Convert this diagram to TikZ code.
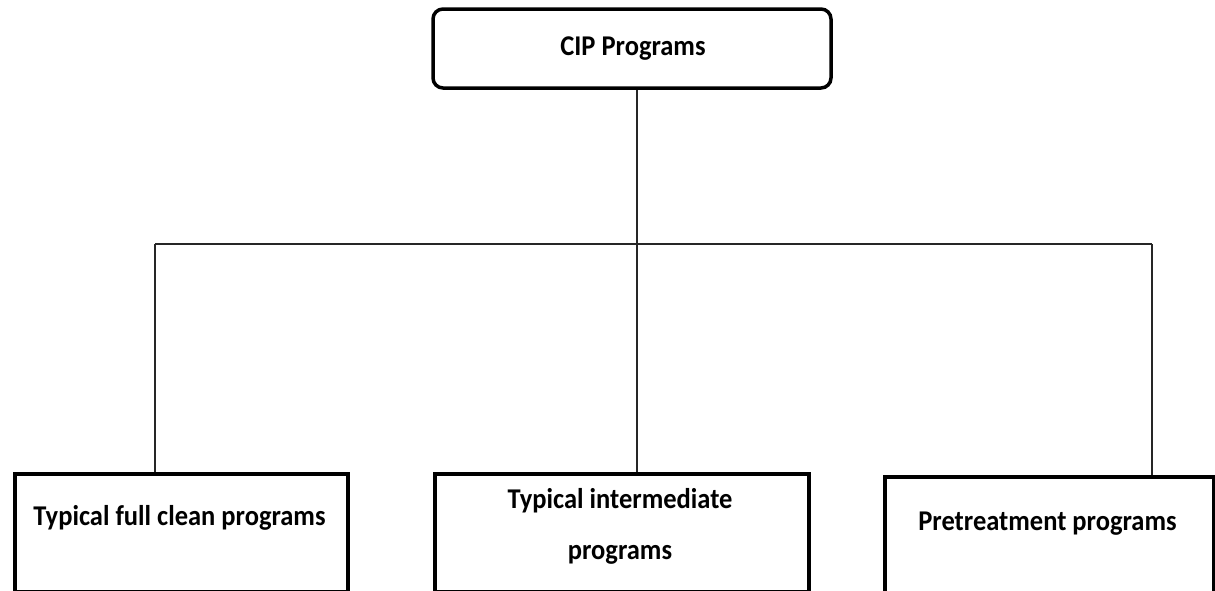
\documentclass[tikz,border=0pt]{standalone}
\usepackage{fontspec}
\setmainfont{Carlito}
\begin{document}
\begin{tikzpicture}[x=1pt,y=-1pt,
  boxline/.style={draw=black,line width=3.5pt},
  topbox/.style={boxline,rounded corners=10pt,minimum width=398pt,minimum height=79pt,inner sep=0pt},
  leafbox/.style={boxline,anchor=north west,minimum height=118pt,inner sep=0pt},
  lbl/.style={font=\fontsize{26.5}{47}\selectfont\bfseries,inner sep=0pt,yscale=1.08},
  link/.style={draw=black!85,line width=1.5pt}]
\useasboundingbox (0,0) rectangle (1215,590);
\clip (0,0) rectangle (1215,590);

% root box
\node[topbox] (root) at (632,48.5) {};
\node[lbl,anchor=base] (roottxt) at (633,55) {CIP Programs};

% leaf boxes (they run past the lower edge)
\node[leafbox,minimum width=333pt] (b1) at (13,472) {};
\node[leafbox,minimum width=374pt] (b2) at (433,472) {};
\node[leafbox,minimum width=329pt] (b3) at (883,475) {};

\node[lbl,anchor=base] (t1) at (179.5,525) {Typical full clean programs};
\node[lbl,align=center,anchor=center] (t2) at (620,526) {Typical intermediate\\programs};
\node[lbl,anchor=base] (t3) at (1047.5,530) {Pretreatment programs};

% connector tree
\coordinate (j)  at (637,244);
\coordinate (c1) at (155,244);
\coordinate (c3) at (1152,244);
\draw[link] (root.south -| j) -- (j);
\draw[link] (c1) -- (c3);
\draw[link] (c1) -- (c1 |- b1.north);
\draw[link] (j) -- (j |- b2.north);
\draw[link] (c3) -- (c3 |- b3.north);
\end{tikzpicture}
\end{document}
